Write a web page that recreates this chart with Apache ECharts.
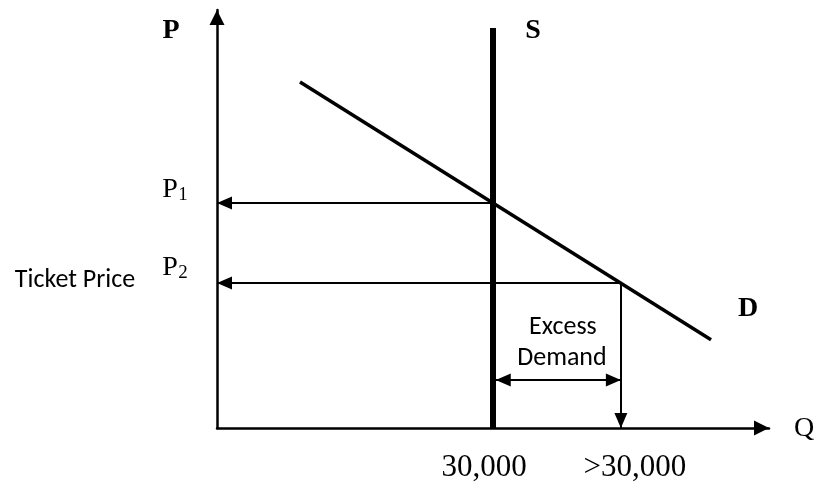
<!DOCTYPE html>
<html><head><meta charset="utf-8">
<script src="https://cdn.jsdelivr.net/npm/echarts@6/dist/echarts.min.js"></script>
<style>html,body{margin:0;padding:0;background:#fff}#c{width:817px;height:485px}</style>
</head><body><div id="c"></div>
<script>
// ---- data ----
const qMax = 60000;
const pMax = 100;
const qLabels = ['30,000', '>30,000'];
const qValues = [30000, 43900];
const pNames = ['P', 'P'];
const pSubs = ['1', '2'];
const pValues = [53.8, 34.7];
const supplyQ = 30000;
const supplyP = [0, 95.7];
const demandQ = [9022, 53700];
const demandP = [82.8, 21.1];
const excessP = 11.5;
const excessText = ['Excess', 'Demand'];
const axisTitles = { p: 'P', q: 'Q', s: 'S', d: 'D', y: 'Ticket Price' };

const SERIF = '"Liberation Serif","Times New Roman",serif';
const SANS = 'Carlito,Calibri,Lato,"Open Sans",sans-serif';
// solid triangles whose tip sits at the centre of the symbol box
const AXIS_HEAD = 'path://M0,-14M0,0L7,14L-7,14Z';
const LINE_HEAD = 'path://M0,-15M-15,0M15,0M0,0L6.5,15L-6.5,15Z';

const chart = echarts.init(document.getElementById('c'), null, { renderer: 'canvas' });

const axisCommon = {
  type: 'value',
  axisLine: { show: true, lineStyle: { color: '#000', width: 2.5 }, symbol: ['none', AXIS_HEAD], symbolSize: [15, 30] },
  axisTick: { show: false },
  axisLabel: { show: false },
  splitLine: { show: false }
};

const option = {
  animation: false,
  backgroundColor: '#fff',
  grid: { left: 217, right: 48, top: 10, bottom: 57 },
  xAxis: Object.assign({}, axisCommon, { min: 0, max: qMax }),
  yAxis: Object.assign({}, axisCommon, { min: 0, max: pMax }),
  series: [
    {
      name: 'Demand', type: 'line', symbol: 'none',
      data: demandQ.map((q, i) => [q, demandP[i]]),
      lineStyle: { color: '#000', width: 3.5 }
    },
    {
      name: 'Supply', type: 'line', symbol: 'none',
      data: supplyP.map(p => [supplyQ, p]),
      lineStyle: { color: '#000', width: 6 }
    },
    {
      type: 'lines', coordinateSystem: 'cartesian2d',
      symbol: ['none', LINE_HEAD], symbolSize: 30,
      lineStyle: { color: '#000', width: 2, opacity: 1 },
      data: [
        { coords: [[qValues[0], pValues[0]], [0, pValues[0]]] },
        { coords: [[qValues[1], pValues[1]], [0, pValues[1]]] },
        { coords: [[qValues[1], pValues[1]], [qValues[1], 0]] }
      ]
    },
    {
      type: 'lines', coordinateSystem: 'cartesian2d',
      symbol: [LINE_HEAD, LINE_HEAD], symbolSize: 30,
      lineStyle: { color: '#000', width: 2, opacity: 1 },
      data: [{ coords: [[qValues[0] + 300, excessP], [qValues[1], excessP]] }]
    }
  ]
};
chart.setOption(option);

function px(q, p) { return chart.convertToPixel({ gridIndex: 0 }, [q, p]); }
const g = [];
function txt(text, x, y, font, extra) {
  g.push({ type: 'text', style: Object.assign({ text, x, y, font, fill: '#000', align: 'center', verticalAlign: 'middle' }, extra || {}) });
}
const origin = px(0, 0);
// axis titles
txt(axisTitles.p, 171, 31, 'bold 28px ' + SERIF);
txt(axisTitles.s, px(supplyQ, 0)[0] + 40, 31, 'bold 28px ' + SERIF);
txt(axisTitles.d, 748, 309, 'bold 28px ' + SERIF);
txt(axisTitles.q, 804, origin[1] + 1, '28px ' + SERIF);
txt(axisTitles.y, 75, 280, '26px ' + SANS);
// price labels with subscripts
pValues.forEach((p, i) => {
  const pt = px(0, p);
  txt(pNames[i], 170, pt[1] - 13 - i * 2, '28px ' + SERIF);
  txt(pSubs[i], 183, pt[1] - 8 - i * 2, '19px ' + SERIF);
});
// quantity labels
qValues.forEach((q, i) => {
  const pt = px(q, 0);
  txt(qLabels[i], pt[0] + (i === 0 ? -9 : 14), origin[1] + 40, '31px ' + SERIF);
});
// excess demand text
const ex = (px(qValues[0], 0)[0] + px(qValues[1], 0)[0]) / 2;
const ey = px(0, excessP)[1];
txt(excessText[0], ex + 6, ey - 52, '26px ' + SANS);
txt(excessText[1], ex + 5, ey - 21, '26px ' + SANS);
chart.setOption({ graphic: g });
</script></body></html>
